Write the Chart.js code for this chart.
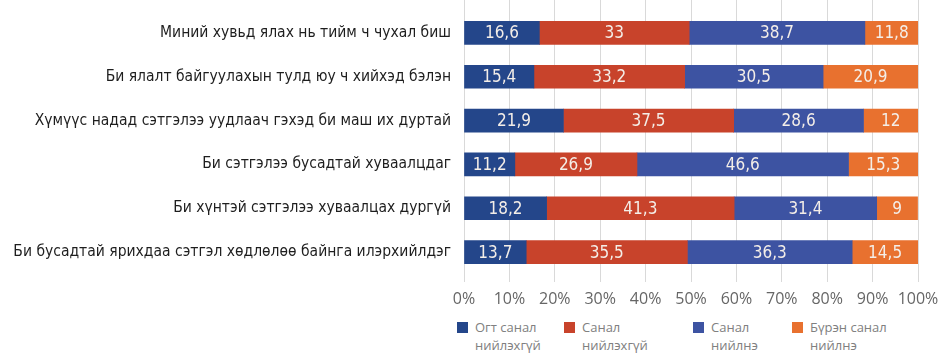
<!DOCTYPE html>
<html>
<head>
<meta charset="utf-8">
<script src="https://cdn.jsdelivr.net/npm/chart.js@4.4.1/dist/chart.umd.min.js"></script>
<style>
  body { margin: 0; background: #fff; width: 950px; height: 364px; overflow: hidden; position: relative; }
  #wrap { position: absolute; left: 0; top: 0; width: 950px; height: 312px; }
  .item { position: absolute; top: 318px; font: 13px "Open Sans", sans-serif; color: #808080; line-height: 18px; }
  .item i { position: absolute; left: 0; top: 4px; width: 11px; height: 11px; }
  .item span { display: block; padding-left: 18px; }
</style>
</head>
<body>
<div id="wrap"><canvas id="chart"></canvas></div>
<div id="legend"></div>
<script>
const categories = [
    'Миний хувьд ялах нь тийм ч чухал биш',
    'Би ялалт байгуулахын тулд юу ч хийхэд бэлэн',
    'Хүмүүс надад сэтгэлээ уудлаач гэхэд би маш их дуртай',
    'Би сэтгэлээ бусадтай хуваалцдаг',
    'Би хүнтэй сэтгэлээ хуваалцах дургүй',
    'Би бусадтай ярихдаа сэтгэл хөдлөлөө байнга илэрхийлдэг'
]
const seriesNames = [
    ['Огт санал', 'нийлэхгүй'],
    ['Санал', 'нийлэхгүй'],
    ['Санал', 'нийлнэ'],
    ['Бүрэн санал', 'нийлнэ']
]
const seriesColors = ['#24468a', '#c8432b', '#3d53a2', '#e8712f']
const stronglyDisagree = [16.6, 15.4, 21.9, 11.2, 18.2, 13.7]
const disagree = [33, 33.2, 37.5, 26.9, 41.3, 35.5]
const agree = [38.7, 30.5, 28.6, 46.6, 31.4, 36.3]
const stronglyAgree = [11.8, 20.9, 12, 15.3, 9, 14.5]
const xTicks = [0, 10, 20, 30, 40, 50, 60, 70, 80, 90, 100]

const gridColor = '#d9d9d9'
const legendLeft = [457, 564, 693, 792]

const seriesValues = [stronglyDisagree, disagree, agree, stronglyAgree]
const datasets = seriesValues.map((data, i) => ({
    label: seriesNames[i].join(' '),
    data,
    backgroundColor: seriesColors[i],
    borderWidth: 0,
    barThickness: 23
}))

// numbers written inside each segment, decimal comma
const segmentLabels = {
    id: 'segmentLabels',
    afterDatasetsDraw(chart) {
        const ctx = chart.ctx
        ctx.save()
        ctx.font = '17px "DejaVu Sans Condensed", "DejaVu Sans", sans-serif'
        ctx.fillStyle = '#f4eee8'
        ctx.textAlign = 'center'
        ctx.textBaseline = 'middle'
        chart.data.datasets.forEach((ds, di) => {
            chart.getDatasetMeta(di).data.forEach((bar, i) => {
                const text = String(ds.data[i]).replace('.', ',')
                ctx.fillText(text, (bar.x + bar.base) / 2, bar.y + 1)
            })
        })
        ctx.restore()
    }
}

new Chart(document.getElementById('chart'), {
    type: 'bar',
    data: { labels: categories, datasets },
    options: {
        indexAxis: 'y',
        responsive: true,
        maintainAspectRatio: false,
        animation: false,
        layout: { padding: { left: 0, right: 32, top: 0, bottom: 0 } },
        plugins: {
            legend: { display: false },
            tooltip: { enabled: false }
        },
        scales: {
            x: {
                stacked: true,
                min: 0,
                max: 100,
                afterBuildTicks: (scale) => { scale.ticks = xTicks.map(value => ({ value })) },
                afterFit: (scale) => { scale.height = 38 },
                grid: { color: gridColor, tickLength: 8 },
                border: { display: false },
                ticks: {
                    padding: 8,
                    autoSkip: false,
                    minRotation: 0,
                    maxRotation: 0,
                    color: '#666666',
                    font: { family: '"Open Sans", sans-serif', size: 16 },
                    callback: (v) => v + '%'
                }
            },
            // no labels, only carries the grid lines up to the top edge
            xTop: {
                position: 'top',
                min: 0,
                max: 100,
                afterBuildTicks: (scale) => { scale.ticks = xTicks.map(value => ({ value })) },
                afterFit: (scale) => { scale.height = 11 },
                grid: { color: gridColor, tickLength: 11, drawOnChartArea: false },
                border: { display: false },
                ticks: { display: false }
            },
            y: {
                stacked: true,
                afterFit: (scale) => { scale.width = 464 },
                grid: { display: false, tickLength: 13 },
                border: { display: false },
                ticks: {
                    padding: 0,
                    color: '#1e1e1e',
                    font: { family: '"DejaVu Sans Condensed", "DejaVu Sans", sans-serif', size: 15.5 }
                }
            }
        }
    },
    plugins: [segmentLabels]
})

// legend with two-line captions
const legend = document.getElementById('legend')
seriesNames.forEach((lines, i) => {
    const el = document.createElement('div')
    el.className = 'item'
    el.style.left = legendLeft[i] + 'px'
    el.innerHTML = '<i style="background:' + seriesColors[i] + '"></i>' +
        lines.map(l => '<span>' + l + '</span>').join('')
    legend.appendChild(el)
})
</script>
</body>
</html>
